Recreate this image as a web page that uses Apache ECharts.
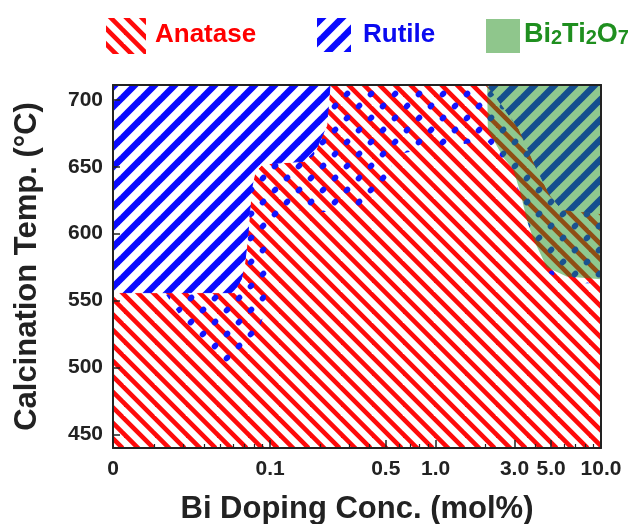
<!DOCTYPE html>
<html>
<head>
<meta charset="utf-8">
<script src="https://cdn.jsdelivr.net/npm/echarts@6/dist/echarts.min.js"></script>
<style>
  html, body { margin: 0; padding: 0; background: #fff; }
  #chart { width: 641px; height: 524px; }
</style>
</head>
<body>
<div id="chart"></div>
<script>
// Axis ticks: Bi doping (mol%) on a log scale, "0" sits at the left edge
const concTicks = [0, 0.1, 0.5, 1.0, 3.0, 5.0, 10.0];
const concTickText = ['0', '0.1', '0.5', '1.0', '3.0', '5.0', '10.0'];
const tempTicks = [450, 500, 550, 600, 650, 700];

// Rutile / anatase boundary on the low-Bi side (left edge up to the top)
const rutileEdgeConc = [0, 0.023, 0.06, 0.067, 0.07, 0.073, 0.077, 0.081, 0.09, 0.16, 0.19, 0.22, 0.23];
const rutileEdgeTemp = [556, 556, 556, 566, 577, 596, 633, 646, 652, 654, 663, 681, 711];

// Rutile / anatase boundary inside the Bi2Ti2O7 field
const highBiRutileConc = [2.05, 3.2, 4.0, 4.9, 5.8, 10];
const highBiRutileTemp = [711, 678, 651, 629, 618, 615];

// Lower edge of the mixed anatase + rutile band
const mixedEdgeConc = [0.023, 0.045, 0.061, 0.081, 0.093, 0.097, 0.10, 0.12, 0.2, 0.37, 0.45, 0.52, 0.57, 0.93, 2.05, 2.56, 3.0, 3.3, 3.7, 4.2, 4.9, 6.5, 10];
const mixedEdgeTemp = [556, 502, 500, 517, 543, 573, 603, 618, 616, 618, 629, 644, 659, 664, 669, 655, 642, 623, 604, 587, 570, 563, 563];

// Bi2Ti2O7 (pyrochlore) field boundary
const pyroEdgeConc = [2.05, 2.07, 2.56, 2.95, 3.25, 3.57, 3.9, 4.7, 6.2, 10];
const pyroEdgeTemp = [711, 678, 657, 648, 631, 610, 596, 575, 568, 566];

const tempMin = 440, tempMax = 711;
const concLogMin = -1.95, concLogMax = 1;
const FONT = '"Liberation Sans", Arial, sans-serif';

// concentration -> position on the log axis
const xv = c => (c <= 0 ? concLogMin : Math.log10(c));
const pts = (cs, ts) => cs.map((c, i) => [xv(c), ts[i]]);

const rutileEdge = pts(rutileEdgeConc, rutileEdgeTemp);
const highBiRutile = pts(highBiRutileConc, highBiRutileTemp);
const mixedEdge = pts(mixedEdgeConc, mixedEdgeTemp);
const pyroEdge = pts(pyroEdgeConc, pyroEdgeTemp);

const rutileLowPoly = rutileEdge.concat([[xv(0), tempMax]]);
const rutileHighPoly = highBiRutile.concat([[xv(10), tempMax]]);
const anatasePoly = [[xv(0), tempMin]].concat(rutileEdge, highBiRutile, [[xv(10), tempMin]]);
const mixedPoly = rutileEdge.slice(1).concat(highBiRutile, mixedEdge.slice().reverse());
const pyroPoly = pyroEdge.concat([[xv(10), tempMax]]);

// ---- hatch / dot fills ----
function stripeTile(size, period, width, color, dir) {
  const c = document.createElement('canvas');
  c.width = c.height = size;
  const g = c.getContext('2d');
  g.fillStyle = '#fff';
  g.fillRect(0, 0, size, size);
  g.strokeStyle = color;
  g.lineWidth = width;
  for (let k = -8; k <= 8; k++) {
    const o = k * period;
    g.beginPath();
    if (dir === 'back') { g.moveTo(o - size, -size); g.lineTo(o + 2 * size, 2 * size); }
    else { g.moveTo(o - size, 2 * size); g.lineTo(o + 2 * size, -size); }
    g.stroke();
  }
  return c;
}
function dotTile() {
  const s = 24;
  const c = document.createElement('canvas');
  c.width = c.height = s;
  const g = c.getContext('2d');
  g.fillStyle = '#1414ff';
  const centres = [[23, 10], [11, 22]];
  centres.forEach(([x, y]) => {
    for (let dx = -s; dx <= s; dx += s) for (let dy = -s; dy <= s; dy += s) {
      g.beginPath();
      g.ellipse(x + dx, y + dy, 3.6, 2.9, -Math.PI / 4, 0, Math.PI * 2);
      g.fill();
    }
  });
  return c;
}
const anataseFill = { image: stripeTile(31, 15.5, 4.6, '#ff0a0a', 'back'), repeat: 'repeat' };
const rutileFill = { image: stripeTile(20, 20, 6.5, '#0a0aff', 'fwd'), repeat: 'repeat' };
const dotFill = { image: dotTile(), repeat: 'repeat' };
const pyroFill = 'rgba(31,145,31,0.5)';

function region(name, poly, fill, z, edge) {
  return {
    type: 'custom', name, coordinateSystem: 'cartesian2d',
    xAxisIndex: 0, yAxisIndex: 0, z, silent: true, clip: true,
    data: poly,
    renderItem(params, api) {
      if (params.dataIndex !== 0) return null;
      const points = poly.map(p => api.coord(p));
      return {
        type: 'polygon', shape: { points },
        style: edge ? { fill, stroke: fill, lineWidth: 1 } : { fill, stroke: null }
      };
    }
  };
}

const majorTicks = concTicks.map(xv);
const minorTicks = [];
[-2, -1, 0].forEach(d => {
  for (let k = 2; k <= 9; k++) {
    const v = Math.log10(k * Math.pow(10, d));
    if (v > concLogMin && !majorTicks.some(m => Math.abs(m - v) < 1e-9)) minorTicks.push(v);
  }
});

const tickLabel = { fontSize: 21, fontWeight: 'bold', color: '#222', fontFamily: FONT };
const titleText = { fontSize: 31, fontWeight: 'bold', color: '#222', fontFamily: FONT };
const frame = { show: true, onZero: false, lineStyle: { color: '#222', width: 2 } };

const option = {
  animation: false,
  grid: { left: 113, right: 40, top: 85, bottom: 76, outerBoundsMode: 'none', containLabel: false },
  xAxis: [
    {
      type: 'value', min: concLogMin, max: concLogMax, position: 'bottom', z: 10,
      axisLine: frame,
      axisTick: { show: true, inside: true, length: 8, customValues: majorTicks, lineStyle: { color: '#222', width: 1.5 } },
      axisLabel: Object.assign({
        margin: 11, customValues: majorTicks,
        formatter: v => {
          const i = majorTicks.findIndex(m => Math.abs(m - v) < 1e-6);
          return i >= 0 ? concTickText[i] : '';
        }
      }, tickLabel),
      splitLine: { show: false },
      name: 'Bi Doping Conc. (mol%)', nameLocation: 'middle', nameGap: 46, nameTextStyle: titleText
    },
    {
      type: 'value', min: concLogMin, max: concLogMax, position: 'bottom', z: 10,
      axisLine: { show: false, onZero: false },
      axisTick: { show: true, inside: true, length: 4, customValues: minorTicks, lineStyle: { color: '#222', width: 1.2 } },
      axisLabel: { show: false }, splitLine: { show: false }
    },
    {
      type: 'value', min: concLogMin, max: concLogMax, position: 'top', z: 10,
      axisLine: frame, axisTick: { show: false }, axisLabel: { show: false }, splitLine: { show: false }
    }
  ],
  yAxis: [
    {
      type: 'value', min: tempMin, max: tempMax, position: 'left', z: 10,
      axisLine: frame,
      axisTick: { show: true, inside: true, length: 7, customValues: tempTicks, lineStyle: { color: '#222', width: 1.5 } },
      axisLabel: Object.assign({ margin: 10, customValues: tempTicks }, tickLabel),
      splitLine: { show: false },
      name: 'Calcination Temp. (°C)', nameLocation: 'middle', nameGap: 70, nameRotate: 90,
      nameTextStyle: titleText
    },
    {
      type: 'value', min: tempMin, max: tempMax, position: 'right', z: 10,
      axisLine: frame, axisTick: { show: false }, axisLabel: { show: false }, splitLine: { show: false }
    }
  ],
  series: [
    region('Anatase', anatasePoly, anataseFill, 1, false),
    region('Rutile', rutileLowPoly, rutileFill, 2, true),
    region('Rutile', rutileHighPoly, rutileFill, 2, true),
    region('Anatase + Rutile', mixedPoly, dotFill, 3, false),
    region('Bi2Ti2O7', pyroPoly, pyroFill, 4, false)
  ],
  graphic: [
    { type: 'rect', shape: { x: 106, y: 18, width: 40, height: 36 }, style: { fill: anataseFill } },
    { type: 'text', style: { text: 'Anatase', x: 155, y: 35, verticalAlign: 'middle', fill: '#ff0000', font: 'bold 26px ' + FONT } },
    { type: 'rect', shape: { x: 317, y: 18, width: 34, height: 34 }, style: { fill: rutileFill } },
    { type: 'text', style: { text: 'Rutile', x: 363, y: 35, verticalAlign: 'middle', fill: '#0a0af0', font: 'bold 26px ' + FONT } },
    { type: 'rect', shape: { x: 486, y: 19, width: 34, height: 34 }, style: { fill: '#8fc68c' } },
    {
      type: 'text',
      style: {
        text: 'Bi{s|2}Ti{s|2}O{s|7}', x: 524, y: 35, verticalAlign: 'middle',
        fill: '#1f8f1f', font: 'bold 27px ' + FONT,
        rich: { s: { fontSize: 20, fontWeight: 'bold', fontFamily: FONT, fill: '#1f8f1f', verticalAlign: 'bottom', lineHeight: 20, padding: [12, 0, 0, 0] } }
      }
    }
  ]
};

const chart = echarts.init(document.getElementById('chart'), null, { renderer: 'canvas' });
chart.setOption(option);
</script>
</body>
</html>
